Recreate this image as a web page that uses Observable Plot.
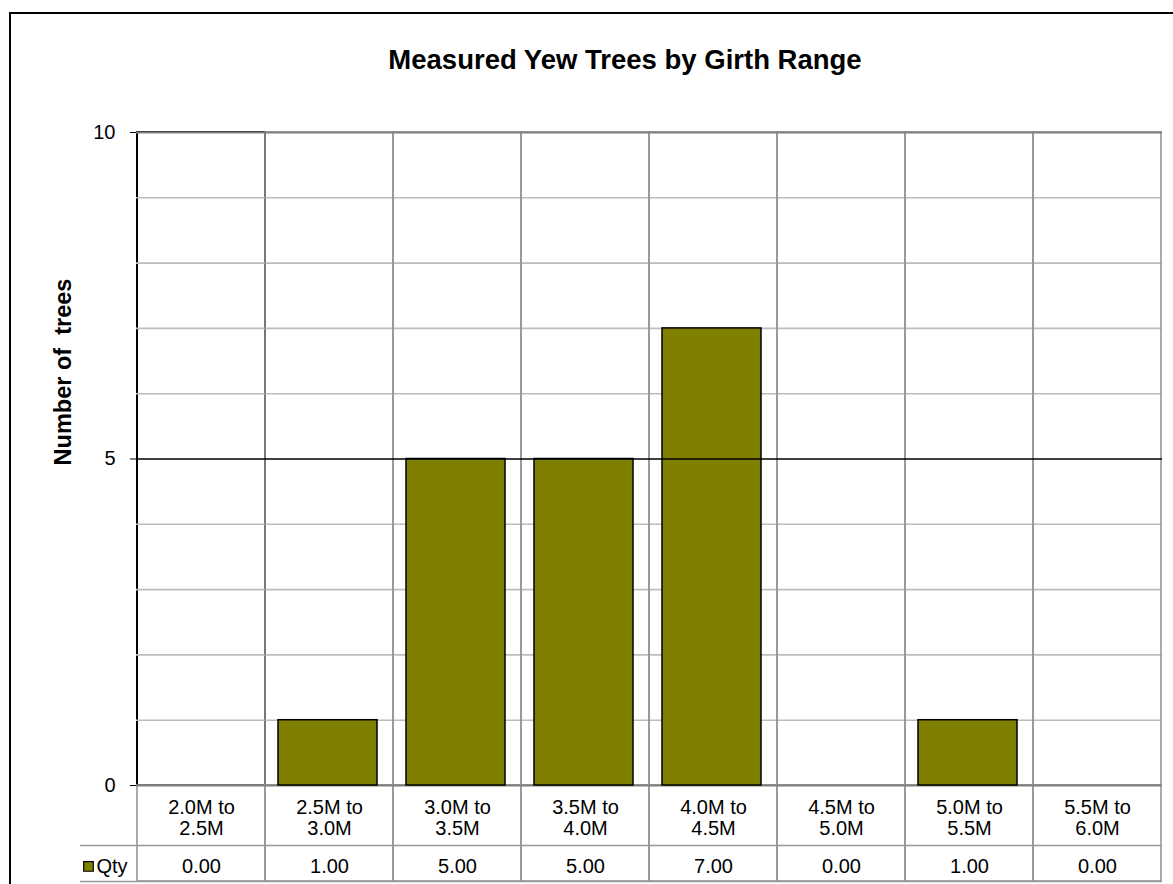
<!DOCTYPE html>
<html>
<head>
<meta charset="utf-8">
<script src="https://cdn.jsdelivr.net/npm/d3@7"></script>
<script src="https://cdn.jsdelivr.net/npm/@observablehq/plot@0.6"></script>
<style>
  html, body { margin: 0; padding: 0; background: #fff; }
  body { width: 1173px; height: 884px; position: relative; overflow: hidden; font-family: "Liberation Sans", Arial, sans-serif; }
  #chart { position: absolute; left: 0; top: 0; }
  #border { position: absolute; left: 9px; top: 12px; width: 1200px; height: 900px; border-left: 2px solid #000; border-top: 2px solid #000; box-sizing: border-box; }
  #title { position: absolute; left: 0; width: 1250px; top: 45px; text-align: center; font-weight: bold; font-size: 27.5px; line-height: 30px; color: #000; }
  #ylabel { position: absolute; left: 63px; top: 372px; transform: translate(-50%, -50%) rotate(-90deg); white-space: pre; font-weight: bold; font-size: 23.5px; color: #000; }
</style>
</head>
<body>
<div id="border"></div>
<div id="chart"></div>
<div id="title">Measured Yew Trees by Girth Range</div>
<div id="ylabel">Number of  trees</div>
<script>
// Data
const categories = ["2.0M to 2.5M", "2.5M to 3.0M", "3.0M to 3.5M", "3.5M to 4.0M", "4.0M to 4.5M", "4.5M to 5.0M", "5.0M to 5.5M", "5.5M to 6.0M"];
const categoryLines = ["2.0M to\n2.5M", "2.5M to\n3.0M", "3.0M to\n3.5M", "3.5M to\n4.0M", "4.0M to\n4.5M", "4.5M to\n5.0M", "5.0M to\n5.5M", "5.5M to\n6.0M"];
const qty = [0, 1, 5, 5, 7, 0, 1, 0];
const seriesName = "Qty";
const yTicks = [0, 5, 10];
const minorTicks = [1, 2, 3, 4, 6, 7, 8, 9];

const rows = categories.map((c, i) => ({cat: c, label: categoryLines[i], qty: qty[i], text: qty[i].toFixed(2)}));

// table row positions in y units (below zero)
const tableBottom = -1.47;
const rowDivider = -0.919;
const labelRowY = -0.5;
const valueRowY = -1.24;

const olive = "#808000";
const font = "Liberation Sans, Arial, sans-serif";

const plot = Plot.plot({
  width: 1173,
  height: 884,
  marginTop: 132,
  marginBottom: 3,
  marginLeft: 136,
  marginRight: 11,
  style: {fontFamily: font, background: "transparent", overflow: "visible"},
  x: {type: "band", domain: categories, padding: 0, axis: null},
  y: {domain: [tableBottom, 10], axis: null},
  marks: [
    // left axis line (black) via first category cell, overdrawn by gray lines
    Plot.barY([rows[0]], {x: "cat", y1: 0, y2: 10, fill: "none", stroke: "#000", strokeWidth: 2}),
    // minor horizontal gridlines
    Plot.ruleY(minorTicks, {stroke: "#bdbdbd", strokeWidth: 1.6}),
    // vertical gridlines (cells) for remaining categories
    Plot.barY(rows.slice(1), {x: "cat", y1: 0, y2: 10, fill: "none", stroke: "#969696", strokeWidth: 1.6}),
    // table cells
    Plot.barY(rows, {x: "cat", y1: tableBottom, y2: 0, fill: "none", stroke: "#969696", strokeWidth: 1.6}),
    Plot.ruleY([rowDivider, tableBottom], {stroke: "#969696", strokeWidth: 1.6, insetLeft: -56}),
    // top border and zero line
    Plot.ruleY([10], {stroke: "#808080", strokeWidth: 2}),
    Plot.ruleY([0], {stroke: "#808080", strokeWidth: 2}),
    // bars
    Plot.barY(rows, {x: "cat", y: "qty", fill: olive, stroke: "#000", strokeWidth: 1.5, insetLeft: 13, insetRight: 16}),
    // major gridline at 5
    Plot.ruleY([5], {stroke: "#000", strokeWidth: 1.5}),
    // y axis
    Plot.axisY({ticks: yTicks, tickSize: 6, tickPadding: 15, fontSize: 20, label: null, tickFormat: d => String(d), stroke: "#000"}),
    // category labels
    Plot.text(rows, {x: "cat", y: labelRowY, text: "label", fontSize: 20, lineHeight: 1.05, fill: "#000"}),
    // values row
    Plot.text(rows, {x: "cat", y: valueRowY, text: "text", fontSize: 20, fill: "#000"}),
    // legend key
    Plot.dot([seriesName], {frameAnchor: "left", y: valueRowY, dx: -48, symbol: "square", r: 5.4, fill: olive, stroke: "#000", strokeWidth: 1.2}),
    Plot.text([seriesName], {frameAnchor: "left", y: valueRowY, dx: -40, text: d => d, textAnchor: "start", fontSize: 20, fill: "#000"})
  ]
});
document.getElementById("chart").appendChild(plot);
</script>
</body>
</html>
